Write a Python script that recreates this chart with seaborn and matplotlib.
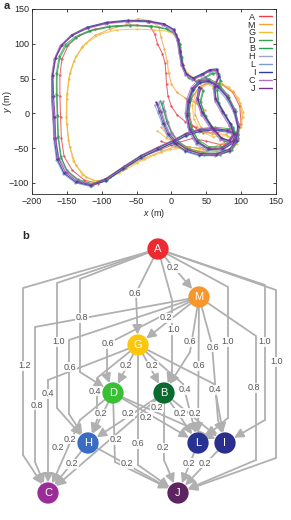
import pandas as pd
import matplotlib.pyplot as plt
import seaborn as sns
from matplotlib.lines import Line2D

# ---------------- data: panel a trajectories (x, y in m) ----------------
traj_A = [(-15,-40),(0,-46),(20,-52),(45,-55),(70,-50),(90,-35),(100,-15),(98,10),(88,30),(72,42),(55,45),(40,38),(28,20),(25,0),(30,-18),(45,-28),(65,-28),(85,-22),(95,-30),(88,-42),(70,-45),(50,-40),(30,-36),(10,-42),(-15,-52),(-40,-62),(-65,-76),(-88,-92),(-105,-101),(-125,-96),(-142,-82),(-154,-62),(-158,-35),(-159,-5),(-160,25),(-160,55),(-157,78),(-148,98),(-132,112),(-110,121),(-80,126),(-50,127),(-30,124),(-24,114),(-20,100),(-13,86),(-9,72),(-8,58),(-7,42),(-5,25),(0,10),(8,-2),(20,-12),(35,-20)]
traj_M = [(-15,-20),(-8,-28),(5,-40),(20,-48),(40,-50),(62,-48),(80,-40),(95,-25),(102,-5),(98,15),(88,32),(72,42),(55,44),(42,36),(34,18),(34,-2),(42,-20),(58,-30),(78,-30),(92,-40),(85,-52),(65,-55),(45,-52),(25,-48),(5,-48),(-15,-55),(-40,-65),(-65,-78),(-88,-92),(-105,-98),(-122,-92),(-137,-75),(-146,-48),(-150,-15),(-150,20),(-147,50),(-140,75),(-128,96),(-110,112),(-88,121),(-65,127),(-48,136),(-30,133),(-18,124),(-15,110),(-10,92),(-6,75),(-4,58),(0,42),(8,30),(20,22),(35,15),(48,5)]
traj_G = [(-20,-25),(-8,-35),(8,-45),(25,-52),(48,-55),(70,-52),(88,-40),(100,-20),(103,2),(96,22),(82,38),(64,46),(48,44),(36,32),(30,12),(32,-8),(42,-26),(60,-34),(80,-32),(94,-44),(82,-56),(60,-60),(38,-56),(18,-50),(-2,-52),(-25,-60),(-50,-72),(-75,-86),(-97,-96),(-112,-97),(-128,-88),(-141,-68),(-148,-38),(-151,-5),(-150,28),(-146,58),(-137,82),(-122,101),(-102,114),(-78,120),(-50,121),(-25,120),(-5,118),(8,110),(13,95),(15,78),(20,62),(30,52),(45,46),(60,38)]
traj_D = [(-16,18),(-12,6),(-7,-11),(0,-27),(11,-41),(26,-51),(46,-57),(68,-57),(86,-50),(95,-36),(96,-16),(91,6),(81,26),(68,42),(54,50),(42,48),(32,38),(26,20),(24,0),(28,-20),(38,-38),(54,-48),(74,-48),(90,-38),(94,-28),(82,-22),(62,-20),(42,-22),(22,-28),(4,-38),(-18,-48),(-43,-60),(-68,-76),(-93,-93),(-114,-101),(-134,-95),(-150,-82),(-159,-62),(-163,-32),(-164,-2),(-165,28),(-165,58),(-161,82),(-152,99),(-138,110),(-118,119),(-90,125),(-60,127),(-30,126),(-8,122),(6,114),(12,100),(14,82),(17,65),(24,52),(35,46),(48,52),(58,58),(67,58),(70,48),(65,34),(67,16),(77,-2),(88,-20),(93,-33),(87,-43),(75,-39),(61,-23),(48,-3),(41,17),(45,33)]
traj_B = [(-14,15),(-10,3),(-6,-14),(1,-30),(12,-44),(27,-54),(47,-60),(69,-60),(87,-53),(96,-39),(97,-19),(92,3),(82,23),(69,39),(55,47),(43,45),(33,35),(27,17),(25,-3),(29,-23),(39,-41),(55,-51),(75,-51),(91,-41),(95,-31),(83,-25),(63,-23),(43,-25),(23,-31),(5,-41),(-17,-51),(-42,-63),(-67,-79),(-92,-96),(-113,-103),(-133,-97),(-149,-84),(-158,-64),(-162,-34),(-163,-4),(-164,26),(-164,56),(-160,80),(-151,97),(-137,109),(-117,118),(-89,124),(-59,126),(-29,125),(-7,121),(7,113),(13,99),(15,81),(18,64),(25,51),(36,45),(49,51),(59,57),(68,57),(71,47),(66,33),(68,15),(78,-3),(89,-21),(94,-34),(88,-44),(76,-40),(62,-24),(49,-4),(42,16),(46,32)]
traj_H = [(-18,16),(-14,4),(-9,-13),(-2,-29),(9,-43),(23,-53),(43,-59),(66,-59),(84,-53),(94,-39),(95,-19),(89,3),(79,23),(65,39),(51,47),(39,45),(29,35),(23,17),(21,-3),(25,-23),(35,-41),(51,-51),(71,-51),(87,-41),(91,-31),(79,-25),(59,-23),(39,-25),(19,-31),(1,-41),(-21,-51),(-46,-63),(-71,-79),(-96,-96),(-117,-104),(-137,-99),(-154,-86),(-163,-66),(-167,-36),(-168,-6),(-170,24),(-170,54),(-166,79),(-157,98),(-142,112),(-120,122),(-92,129),(-62,132),(-32,131),(-10,127),(4,119),(10,105),(13,87),(16,69),(22,55),(32,49),(45,55),(56,61),(66,61),(68,51),(62,37),(64,19),(74,1),(85,-17),(90,-31),(84,-41),(72,-37),(58,-21),(45,-1),(38,19),(42,35)]
traj_L = [(-24,12),(-19,0),(-13,-16),(-6,-32),(5,-45),(19,-55),(39,-61),(62,-61),(82,-55),(93,-41),(95,-21),(90,0),(79,20),(65,37),(50,45),(38,43),(29,32),(23,14),(21,-6),(25,-26),(35,-44),(51,-54),(71,-54),(87,-44),(92,-33),(79,-27),(59,-25),(39,-27),(19,-33),(1,-43),(-21,-53),(-46,-65),(-71,-81),(-96,-98),(-117,-105),(-138,-100),(-155,-87),(-165,-67),(-169,-37),(-170,-7),(-172,23),(-172,53),(-168,78),(-159,97),(-144,112),(-122,123),(-94,130),(-64,133),(-34,132),(-12,128),(2,120),(8,106),(11,88),(14,70),(20,56),(30,50),(43,56),(54,62),(64,63),(67,53),(61,39),(62,21),(72,3),(83,-15),(88,-30),(82,-40),(70,-36),(56,-20),(43,1),(36,21),(39,37)]
traj_I = [(-22,16),(-18,4),(-12,-14),(-5,-30),(6,-44),(20,-54),(40,-60),(64,-60),(84,-54),(94,-40),(96,-20),(91,2),(81,22),(67,38),(53,46),(41,44),(31,34),(25,16),(23,-4),(27,-24),(37,-42),(53,-52),(73,-52),(89,-42),(93,-31),(81,-26),(61,-24),(41,-26),(21,-32),(3,-42),(-19,-52),(-44,-64),(-69,-80),(-94,-97),(-116,-104),(-137,-99),(-154,-86),(-164,-66),(-168,-36),(-169,-6),(-171,24),(-171,54),(-167,79),(-158,98),(-143,113),(-121,124),(-93,131),(-63,134),(-33,133),(-11,129),(3,121),(9,107),(12,89),(15,71),(21,57),(31,51),(44,57),(55,63),(65,64),(68,54),(62,40),(63,22),(73,4),(84,-14),(89,-29),(83,-39),(71,-35),(57,-19),(44,2),(37,22),(40,38)]
traj_C = [(-12,17),(-9,4),(-5,-12),(1,-28),(10,-42),(25,-53),(45,-59),(67,-59),(85,-52),(95,-36),(96,-14),(89,8),(78,28),(63,43),(49,50),(37,47),(28,37),(22,20),(20,0),(24,-20),(34,-38),(50,-50),(70,-52),(87,-42),(93,-31),(82,-25),(62,-21),(42,-22),(22,-28),(4,-38),(-18,-48),(-42,-60),(-67,-76),(-92,-93),(-113,-102),(-133,-97),(-150,-84),(-161,-64),(-167,-38),(-170,-8),(-172,22),(-172,52),(-168,78),(-160,97),(-145,111),(-123,122),(-95,129),(-65,132),(-35,132),(-13,127),(1,119),(8,105),(11,87),(14,69),(20,55),(30,48),(43,54),(54,60),(64,61),(66,50),(60,36),(62,18),(72,0),(83,-18),(88,-32),(82,-42),(70,-38),(56,-22),(43,-2),(36,18),(40,34)]
traj_J = [(-20,14),(-15,2),(-10,-15),(-3,-30),(8,-42),(22,-52),(42,-58),(65,-58),(83,-52),(93,-38),(95,-18),(90,4),(80,24),(66,40),(52,48),(40,46),(30,36),(24,18),(22,-2),(26,-22),(36,-40),(52,-50),(72,-50),(88,-40),(92,-30),(80,-24),(60,-22),(40,-24),(20,-30),(2,-40),(-20,-50),(-45,-62),(-70,-78),(-95,-95),(-115,-103),(-135,-98),(-152,-85),(-162,-65),(-166,-35),(-167,-5),(-169,25),(-170,55),(-166,80),(-157,98),(-142,112),(-120,123),(-92,130),(-62,133),(-32,132),(-10,128),(4,120),(10,106),(13,88),(16,70),(22,56),(32,50),(45,56),(56,62),(66,62),(68,52),(62,38),(64,20),(74,2),(85,-16),(90,-30),(84,-40),(72,-36),(58,-20),(45,0),(38,20),(42,36)]

traj_names = ['A', 'M', 'G', 'D', 'B', 'H', 'L', 'I', 'C', 'J']
trajs = [traj_A, traj_M, traj_G, traj_D, traj_B, traj_H, traj_L, traj_I, traj_C, traj_J]
traj_colors = ['#e8404a', '#f3a23a', '#efc030', '#3a9e4e', '#22a055',
               '#98a4cc', '#7e9ed2', '#2e3c98', '#b070c0', '#7a2c98']

# ---------------- data: panel b graph ----------------
node_names = ['A', 'M', 'G', 'D', 'B', 'H', 'L', 'I', 'C', 'J']
node_colors = ['#ec2a30', '#f6972e', '#fdc70f', '#38bf34', '#0a6a30',
               '#3a6cc4', '#283293', '#2a2f8e', '#9a2e98', '#5c2460']
edge_src = ['A','A','A','A','A','A','A','A','A',
            'M','M','M','M','M','M','M','M',
            'G','G','G','G','G','G','G',
            'D','D','D','D','D',
            'B','B','B','B','B',
            'H','H','L','I']
edge_dst = ['M','G','D','H','C','B','L','I','J',
            'G','C','H','D','B','L','I','J',
            'C','H','D','B','J','L','I',
            'H','C','J','L','I',
            'H','C','J','L','I',
            'C','J','J','J']
edge_weight = [0.2, 0.6, 0.8, 1.0, 1.2, 1.0, 1.0, 1.0, 1.0,
               0.2, 0.8, 0.6, 0.6, 0.6, 0.6, 0.6, 0.8,
               0.4, 0.4, 0.2, 0.2, 0.6, 0.4, 0.4,
               0.2, 0.2, 0.2, 0.2, 0.2,
               0.2, 0.2, 0.2, 0.2, 0.2,
               0.2, 0.2, 0.2, 0.2]

# layout of panel b in figure pixels (y down)
node_pos = {'A': (158, 249), 'M': (199, 297), 'G': (138, 345), 'D': (113, 393),
            'B': (164, 393), 'H': (88, 443), 'L': (198, 443), 'I': (225, 443),
            'C': (48, 493), 'J': (178, 493)}
edge_via = {('A','G'): [(136,293)], ('A','D'): [(80,279),(80,372)],
            ('A','H'): [(57,283),(57,408)], ('A','C'): [(23,288),(23,455)],
            ('A','B'): [(172,300),(172,372)], ('A','L'): [(228,287),(228,418)],
            ('A','I'): [(265,285),(265,420)], ('A','J'): [(276,290),(276,458)],
            ('M','C'): [(35,327),(35,462)], ('M','H'): [(69,340),(69,414)],
            ('M','D'): [(107,344),(107,376)], ('M','B'): [(190,352)],
            ('M','I'): [(212,345),(218,420)], ('M','J'): [(256,336),(256,460)],
            ('G','C'): [(48,380)], ('G','H'): [(97,378),(97,420)],
            ('G','J'): [(138,465)], ('G','L'): [(183,384)], ('G','I'): [(214,384)],
            ('D','C'): [(80,420)], ('D','J'): [(115,462)], ('B','J'): [(164,460)]}
label_pos = {('A','M'):(173,268), ('A','G'):(135,293), ('A','D'):(82,318), ('A','H'):(59,342),
             ('A','C'):(25,366), ('A','B'):(174,330), ('A','L'):(228,342), ('A','I'):(265,342),
             ('A','J'):(277,362), ('M','G'):(166,318), ('M','C'):(37,405), ('M','H'):(70,367),
             ('M','D'):(108,344), ('M','B'):(190,342), ('M','L'):(199,366), ('M','I'):(213,347),
             ('M','J'):(254,388), ('G','C'):(48,394), ('G','H'):(95,391), ('G','D'):(126,366),
             ('G','B'):(152,366), ('G','J'):(138,444), ('G','L'):(185,390), ('G','I'):(215,390),
             ('D','H'):(101,414), ('D','C'):(70,439), ('D','J'):(116,440), ('D','L'):(157,407),
             ('D','I'):(146,418), ('B','H'):(128,414), ('B','C'):(58,448), ('B','J'):(163,448),
             ('B','L'):(180,413), ('B','I'):(195,413), ('H','C'):(72,464), ('H','J'):(127,464),
             ('L','J'):(189,463), ('I','J'):(205,463)}

# ---------------- style ----------------
sns.set_style('ticks')
plt.rcParams['font.family'] = ['Liberation Sans', 'DejaVu Sans']
plt.rcParams['mathtext.fontset'] = 'custom'
plt.rcParams['mathtext.it'] = 'Liberation Sans:italic'
plt.rcParams['mathtext.rm'] = 'Liberation Sans'

W, H = 291, 520
fig = plt.figure(figsize=(W / 100, H / 100), dpi=100)

# ---------------- panel a ----------------
ax = fig.add_axes([32 / W, 1 - 194 / H, (276 - 32) / W, (194 - 9) / H])
rows = []
for name, pts in zip(traj_names, trajs):
    for k, (x, y) in enumerate(pts):
        rows.append({'traj': name, 'step': k, 'x': x, 'y': y})
df = pd.DataFrame(rows)
sns.lineplot(data=df, x='x', y='y', hue='traj', hue_order=traj_names,
             palette=dict(zip(traj_names, traj_colors)), sort=False, estimator=None,
             lw=0.75, alpha=0.8, marker='o', markersize=1.7, markeredgewidth=0,
             legend=False, ax=ax)
ax.set_xlim(-200, 150)
ax.set_ylim(-116, 150)
ax.set_xticks(range(-200, 151, 50))
ax.set_yticks(range(-100, 151, 50))
ax.tick_params(direction='in', top=True, right=True, length=2.5, width=0.6,
               labelsize=6.5, pad=2)
for s in ax.spines.values():
    s.set_linewidth(0.6)
ax.set_xlabel(r'$x$ (m)', fontsize=6.5, labelpad=1)
ax.set_ylabel(r'$y$ (m)', fontsize=6.5)
ax.yaxis.set_label_coords(-0.072, 0.5)
handles = [Line2D([0], [0], color=c, lw=1) for c in traj_colors]
ax.legend(handles, traj_names, loc='upper right', frameon=False, markerfirst=False,
          fontsize=6.5, handlelength=1.5, handletextpad=0.4, labelspacing=-0.12,
          borderaxespad=0.3, borderpad=0.1)
fig.text(4 / W, 1 - 6 / H, 'a', fontsize=8, fontweight='bold', va='center')

# ---------------- panel b ----------------
bx = fig.add_axes([0, 0, 1, 300 / H])
bx.set_xlim(0, W)
bx.set_ylim(H, 220)
bx.axis('off')
edge_col = '#b0b0b0'
r_pt = 10.5 * 0.72
for s_, d_, w_ in zip(edge_src, edge_dst, edge_weight):
    pts = [node_pos[s_]] + edge_via.get((s_, d_), []) + [node_pos[d_]]
    xs = [p[0] for p in pts[:-1]]
    ys = [p[1] for p in pts[:-1]]
    bx.plot(xs, ys, color=edge_col, lw=1.3, zorder=1, solid_capstyle='round')
    bx.annotate('', xy=pts[-1], xytext=pts[-2], zorder=1,
                arrowprops=dict(arrowstyle='-|>,head_length=0.55,head_width=0.28',
                                color=edge_col, lw=1.3, shrinkA=0, shrinkB=r_pt))
    lx, ly = label_pos[(s_, d_)]
    bx.text(lx, ly, f'{w_:.1f}', fontsize=6.5, color='#555555', ha='center', va='center',
            zorder=2, bbox=dict(facecolor='white', edgecolor='none', pad=0.2, alpha=0.85))

ndf = pd.DataFrame({'node': node_names,
                    'x': [node_pos[n][0] for n in node_names],
                    'y': [node_pos[n][1] for n in node_names]})
sns.scatterplot(data=ndf, x='x', y='y', hue='node', palette=dict(zip(node_names, node_colors)),
                s=235, edgecolor='none', legend=False, zorder=3, ax=bx)
for n in node_names:
    bx.text(node_pos[n][0], node_pos[n][1], n, color='white', fontsize=8,
            ha='center', va='center', zorder=4)
bx.set_xlabel('')
bx.set_ylabel('')
fig.text(22 / W, 1 - 236 / H, 'b', fontsize=8, fontweight='bold', va='center')

fig.savefig('out.png', dpi=100)
